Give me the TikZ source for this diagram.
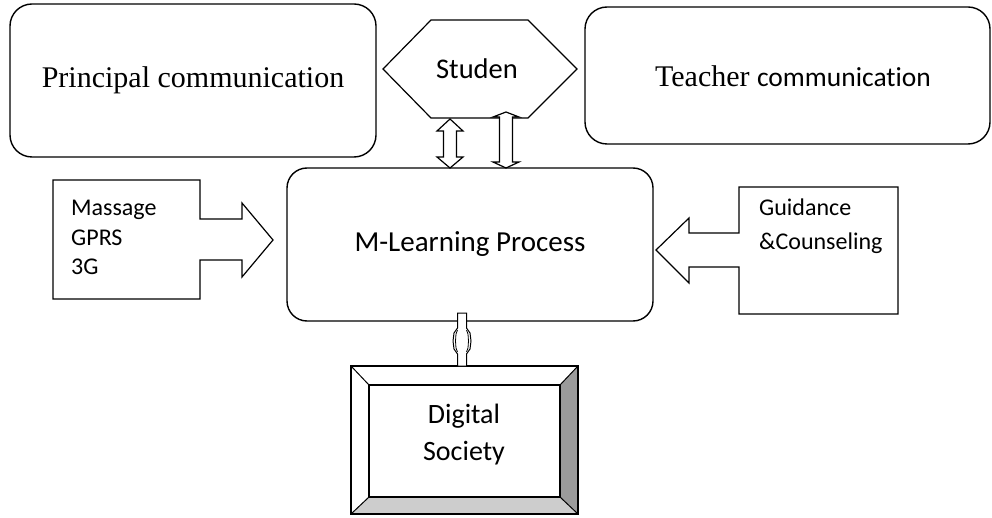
\documentclass[tikz,border=0pt]{standalone}
\usepackage{fontspec}
\setmainfont{Liberation Serif}
\newfontfamily\carl[Ligatures=NoCommon]{Carlito}
\definecolor{bevR}{HTML}{9B9B9B}
\definecolor{bevB}{HTML}{CDCDCD}
\begin{document}
\begin{tikzpicture}[x=1pt,y=-1pt,line join=miter,
  rbox/.style={draw,line width=1.4pt,rounded corners=22pt,inner sep=0pt},
  blk/.style={draw,line width=1.2pt,fill=white},
  lbl/.style={font=\carl\fontsize{24}{29.5}\selectfont,align=left,inner sep=0pt}
]
\useasboundingbox (0,0) rectangle (992,518);

% top boxes
\node[rbox,minimum width=366pt,minimum height=153pt,font=\fontsize{30}{36}\selectfont] (prin) at (193,80.5) {Principal communication};
\node[rbox,minimum width=405pt,minimum height=137pt] (teach) at (787.5,75.5) {};
\node[inner sep=0pt] (teachtxt) at (793,76) {\fontsize{30}{36}\selectfont Teacher \carl\fontsize{27.5}{33}\selectfont communication};

% student hexagon
\draw[blk] (383,69) -- (431,20) -- (528,20) -- (577,69) -- (528,118) -- (431,118) -- cycle;
\node[font=\carl\fontsize{28.5}{34}\selectfont] (stu) at (477,69) {Studen};

% main process
\node[rbox,minimum width=366pt,minimum height=153pt,rounded corners=20pt,font=\carl\fontsize{29}{35}\selectfont] (ml) at (470,244.5) {M-Learning Process};

% double arrows between student and process
\draw[blk] (450,119) -- (463,131) -- (456.5,131) -- (456.5,157) -- (463,157) -- (450,168)
  -- (437,157) -- (443.5,157) -- (443.5,131) -- (437,131) -- cycle;
\draw[blk] (506,112) -- (519,117) -- (512.5,117) -- (512.5,162) -- (519,162) -- (506,168)
  -- (493,162) -- (499.5,162) -- (499.5,117) -- (493,117) -- cycle;

% left callout
\draw[blk] (53,180) -- (200,180) -- (200,219) -- (242,219) -- (242,203) -- (273,240)
  -- (242,277) -- (242,260) -- (200,260) -- (200,299) -- (53,299) -- cycle;
\node[lbl,anchor=west] (left) at (71,237.5) {Massage\\GPRS\\3G};

% right callout
\draw[blk] (898,187) -- (739,187) -- (739,233) -- (689,233) -- (689,218) -- (656,250)
  -- (689,283) -- (689,267) -- (739,267) -- (739,314) -- (898,314) -- cycle;
\node[lbl,anchor=north west,font=\carl\fontsize{24}{34}\selectfont] (right) at (759,199) {Guidance\\\&Counseling};

% digital society bevel box
\coordinate (o1) at (351,366); \coordinate (o2) at (578,366);
\coordinate (o3) at (578,514); \coordinate (o4) at (351,514);
\coordinate (i1) at (369,385); \coordinate (i2) at (560,385);
\coordinate (i3) at (560,497); \coordinate (i4) at (369,497);
\fill[white] (o1) rectangle (o3);
\fill[bevR] (o2) -- (o3) -- (i3) -- (i2) -- cycle;
\fill[bevB] (o4) -- (o3) -- (i3) -- (i4) -- cycle;
\draw[line width=1pt] (o1) -- (i1) (o2) -- (i2) (o3) -- (i3) (o4) -- (i4);
\draw[line width=1.4pt] (i1) rectangle (i3);
\draw[line width=2pt] (o1) rectangle (o3);
\node[align=center,font=\carl\fontsize{28}{37}\selectfont] (dig) at (464,435) {Digital\\Society};

% small connector between process and digital society
\draw[blk,line width=1pt] (457.5,313) -- (466.5,313) -- (466.5,328) -- (470,333) -- (471,341)
  -- (470,349) -- (466.5,354) -- (466.5,366) -- (457.5,366) -- (457.5,354) -- (454,349)
  -- (453,341) -- (454,333) -- (457.5,328) -- cycle;
\draw[line width=0.8pt] (457.5,330) -- (456,334) -- (455.5,341) -- (456,348) -- (457.5,352)
  (466.5,330) -- (468,334) -- (468.5,341) -- (468,348) -- (466.5,352);
\end{tikzpicture}
\end{document}
